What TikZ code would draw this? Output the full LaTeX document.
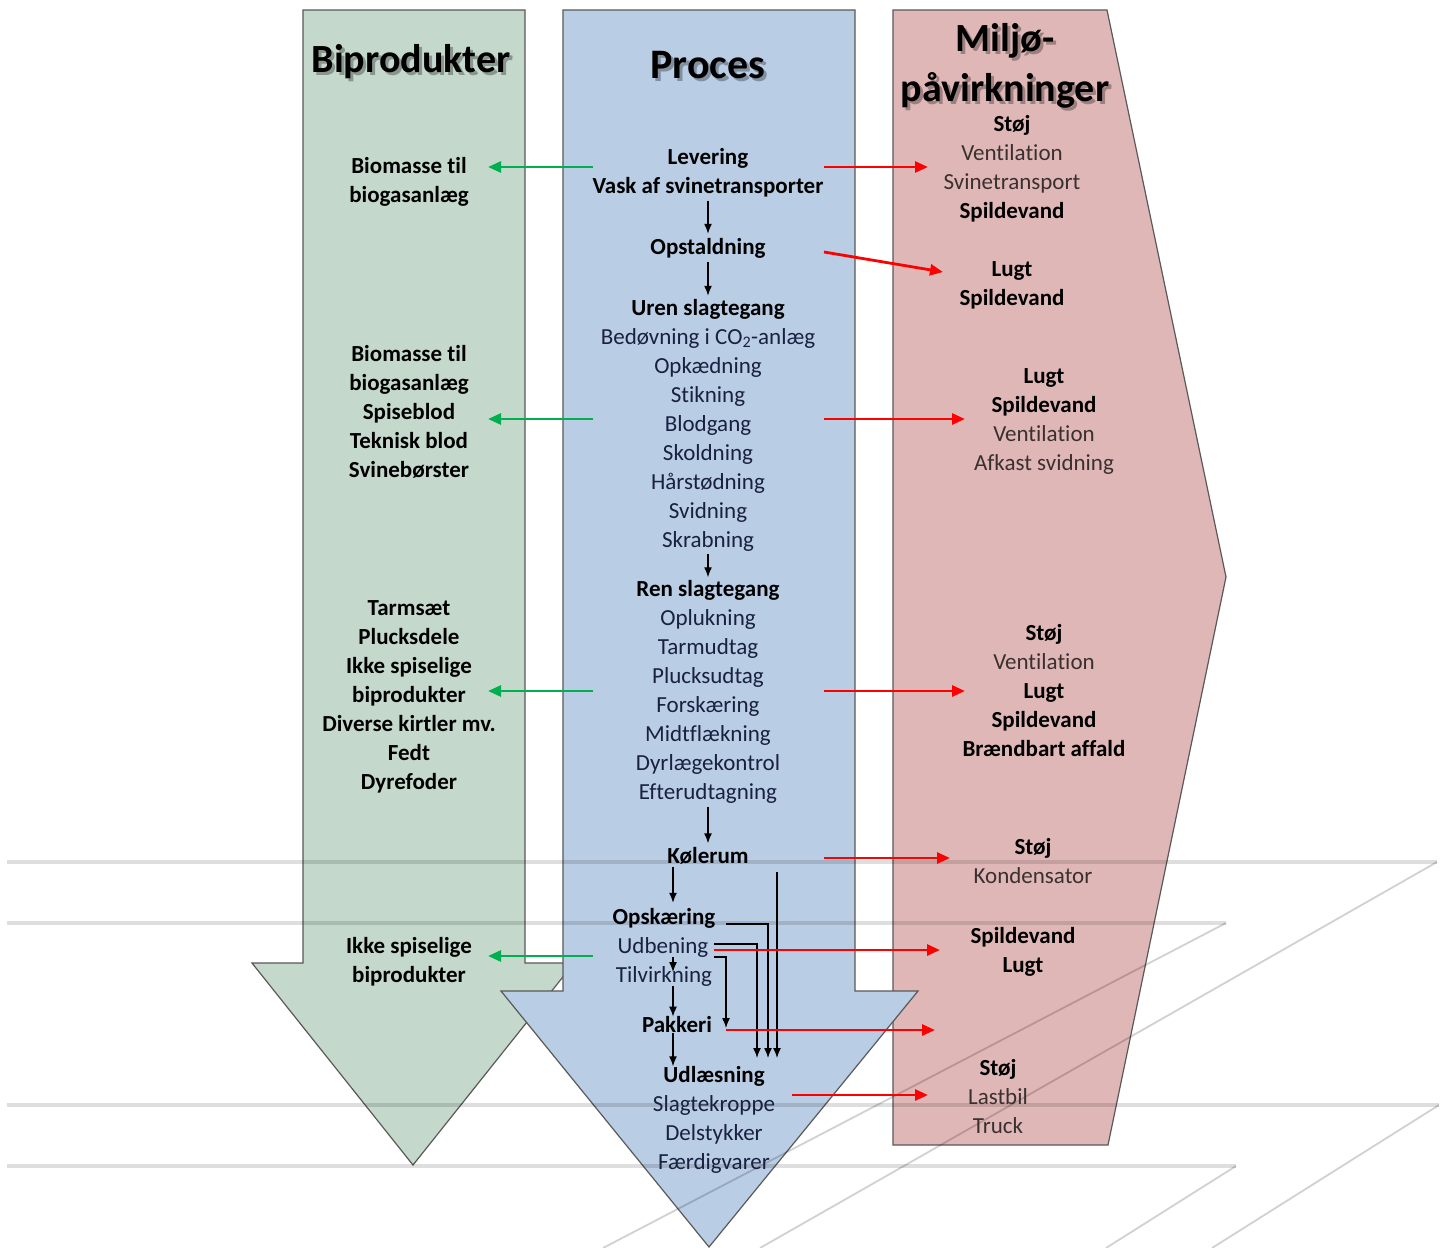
\documentclass[tikz,border=0pt]{standalone}
\usepackage{fontspec}
\setmainfont{Carlito}[Ligatures=NoCommon]
\usepackage{tikz}
\usetikzlibrary{arrows.meta,positioning}

\definecolor{bipgreen}{RGB}{196,217,204}
\definecolor{procblue}{RGB}{185,205,229}
\definecolor{milred}{RGB}{224,183,183}
\definecolor{txtblue}{RGB}{26,32,64}
\definecolor{txtgray}{RGB}{58,48,48}
\definecolor{arrgreen}{RGB}{0,176,80}

\newcommand{\bodyfont}{\fontsize{23}{29}\selectfont}
\newcommand{\headfont}{\fontsize{40}{50}\selectfont\bfseries}
\newcommand{\boldline}[1]{\textcolor{black}{\textbf{#1}}}

\begin{document}
\begin{tikzpicture}[x=1pt,y=-1pt,
  item/.style={align=center,font=\bodyfont,inner sep=0pt},
  heading/.style={align=center,font=\headfont,inner sep=0pt},
  shadow/.style={heading,text=black,opacity=0.3},
  column/.style={draw=black!65,line width=1.2pt},
  darr/.style={-{Latex[length=10pt,width=8pt]},line width=1.4pt},
  rarr/.style={-{Triangle[length=13pt,width=11pt]},line width=2.8pt,red},
  garr/.style={-{Triangle[length=13pt,width=11pt]},line width=2.8pt,arrgreen},
  bgline/.style={line width=4pt,black,opacity=0.13},
  bgdiag/.style={line width=1.8pt,black,opacity=0.18}]

  \useasboundingbox (0,0) rectangle (1444,1248);
  \fill[white] (0,0) rectangle (1444,1248);

  % the three big arrows
  \filldraw[column,fill=bipgreen] (303,10) -- (525,10) -- (525,963) -- (574,963)
    -- (413,1165) -- (252,963) -- (303,963) -- cycle;
  \filldraw[column,fill=milred] (893,10) -- (1107,10) -- (1226,577) -- (1108,1145)
    -- (893,1145) -- cycle;
  \filldraw[column,fill=procblue] (563,10) -- (855,10) -- (855,991) -- (918,991)
    -- (709,1247) -- (501,991) -- (563,991) -- cycle;

  % ramps in the background
  \draw[bgline] (7,862) -- (1437,862);
  \draw[bgline] (7,923) -- (1226,923);
  \draw[bgline] (7,1105) -- (1439,1105);
  \draw[bgline] (7,1166) -- (1236,1166);
  \draw[bgdiag] (1437,862) -- (760,1248);
  \draw[bgdiag] (1226,923) -- (603,1248);
  \draw[bgdiag] (1439,1105) -- (1212,1248);
  \draw[bgdiag] (1236,1166) -- (1106,1248);

  % headings
  \node[shadow] (bipsh) at (414,65) {Biprodukter};
  \node[heading] (bip) at (411,62) {Biprodukter};
  \node[shadow,font=\fontsize{42}{50}\selectfont\bfseries] (procsh) at (711,68) {Proces};
  \node[heading,font=\fontsize{42}{50}\selectfont\bfseries] (proc) at (708,65) {Proces};
  \node[shadow] (milsh) at (1008,69) {Miljø-\\påvirkninger};
  \node[heading] (mil) at (1005,66) {Miljø-\\påvirkninger};

  % Biprodukter
  \node[item,font=\bodyfont\bfseries] (bi1) at (409,182) {Biomasse til\\biogasanlæg};
  \node[item,font=\bodyfont\bfseries] (bi2) at (409,412)
    {Biomasse til\\biogasanlæg\\Spiseblod\\Teknisk blod\\Svinebørster};
  \node[item,font=\bodyfont\bfseries] (bi3) at (409,697)
    {Tarmsæt\\Plucksdele\\Ikke spiselige\\biprodukter\\Diverse kirtler mv.\\Fedt\\Dyrefoder};
  \node[item,font=\bodyfont\bfseries] (bi4) at (409,962) {Ikke spiselige\\biprodukter};

  % Proces
  \node[item,text=txtblue] (proc1) at (708,173) {\boldline{Levering}\\\boldline{Vask af svinetransporter}};
  \node[item,text=txtblue] (proc2) at (708,248) {\boldline{Opstaldning}};
  \node[item,text=txtblue] (proc3) at (708,425)
    {\boldline{Uren slagtegang}\\Bedøvning i CO\textsubscript{2}-anlæg\\Opkædning\\Stikning\\Blodgang\\Skoldning\\Hårstødning\\Svidning\\Skrabning};
  \node[item,text=txtblue] (proc4) at (708,692)
    {\boldline{Ren slagtegang}\\Oplukning\\Tarmudtag\\Plucksudtag\\Forskæring\\Midtflækning\\Dyrlægekontrol\\Efterudtagning};
  \node[item,text=txtblue] (proc5) at (708,856) {\boldline{Kølerum}};
  \node[item,text=txtblue] (proc6) at (664,918) {\boldline{Opskæring}};
  \node[item,text=txtblue] (proc7) at (663,947) {Udbening};
  \node[item,text=txtblue] (proc8) at (664,976) {Tilvirkning};
  \node[item,text=txtblue] (proc9) at (677,1025) {\boldline{Pakkeri}};
  \node[item,text=txtblue] (proc10) at (714,1120)
    {\boldline{Udlæsning}\\Slagtekroppe\\Delstykker\\Færdigvarer};

  % Miljoepaavirkninger
  \node[item,text=txtgray] (mil1) at (1012,169)
    {\boldline{Støj}\\Ventilation\\Svinetransport\\\boldline{Spildevand}};
  \node[item,text=txtgray] (mil2) at (1012,285) {\boldline{Lugt}\\\boldline{Spildevand}};
  \node[item,text=txtgray] (mil3) at (1044,422)
    {\boldline{Lugt}\\\boldline{Spildevand}\\Ventilation\\Afkast svidning};
  \node[item,text=txtgray] (mil4) at (1044,691)
    {\boldline{Støj}\\Ventilation\\\boldline{Lugt}\\\boldline{Spildevand}\\\boldline{Brændbart affald}};
  \node[item,text=txtgray] (mil5) at (1033,861) {\boldline{Støj}\\Kondensator};
  \node[item,text=txtgray] (mil6) at (1023,952) {\boldline{Spildevand}\\\boldline{Lugt}};
  \node[item,text=txtgray] (mil7) at (998,1097) {\boldline{Støj}\\Lastbil\\Truck};

  % steps down the process
  \coordinate (ax) at (673,0);
  \draw[darr,shorten <=3pt,shorten >=4pt] (proc1.south) -- (proc2.north);
  \draw[darr,shorten <=4pt,shorten >=3pt] (proc2.south) -- (proc3.north);
  \draw[darr,shorten <=3pt,shorten >=3pt] (proc3.south) -- (proc4.north);
  \draw[darr,shorten <=3pt,shorten >=4pt] (proc4.south) -- (proc5.north);
  \draw[darr,shorten <=2pt,shorten >=5pt] (proc5.south -| ax) -- (proc6.north -| ax);
  \draw[darr,shorten <=4pt,shorten >=10pt] (proc7.base -| ax) -- (proc8.base -| ax);
  \draw[darr] (proc8.south -| ax) -- (proc9.north -| ax);
  \draw[darr] (proc9.south -| ax) -- (proc10.north -| ax);

  % routes past the cutting line
  \coordinate (k1) at (777,872);
  \coordinate (o1) at (726,924);
  \coordinate (u1) at (714,944);
  \coordinate (u2) at (714,957);
  \coordinate (t1) at (757,1058);
  \coordinate (t2) at (768,1058);
  \coordinate (t3) at (777,1058);
  \coordinate (t4) at (726,1028);
  \draw[darr] (k1) -- (t3);
  \draw[darr] (o1) -| (t2);
  \draw[darr] (u1) -| (t1);
  \draw[darr] (u2) -| (t4);

  % by-products
  \coordinate (g1) at (593,167);  \coordinate (b1) at (488,167);
  \coordinate (g2) at (593,419);  \coordinate (b2) at (488,419);
  \coordinate (g3) at (593,691);  \coordinate (b3) at (488,691);
  \coordinate (g4) at (593,956);  \coordinate (b4) at (488,956);
  \draw[garr] (g1) -- (b1);
  \draw[garr] (g2) -- (b2);
  \draw[garr] (g3) -- (b3);
  \draw[garr] (g4) -- (b4);

  % environmental effects
  \coordinate (r1) at (824,167);  \coordinate (m1) at (928,167);
  \coordinate (r2) at (824,252);  \coordinate (m2) at (943,272);
  \coordinate (r3) at (824,419);  \coordinate (m3) at (965,419);
  \coordinate (r4) at (824,691);  \coordinate (m4) at (965,691);
  \coordinate (r5) at (824,858);  \coordinate (m5) at (950,858);
  \coordinate (r6) at (714,950);  \coordinate (m6) at (940,950);
  \coordinate (r7) at (726,1030); \coordinate (m7) at (935,1030);
  \coordinate (r8) at (792,1095); \coordinate (m8) at (928,1095);
  \draw[rarr] (r1) -- (m1);
  \draw[rarr] (r2) -- (m2);
  \draw[rarr] (r3) -- (m3);
  \draw[rarr] (r4) -- (m4);
  \draw[rarr] (r5) -- (m5);
  \draw[rarr] (r6) -- (m6);
  \draw[rarr] (r7) -- (m7);
  \draw[rarr] (r8) -- (m8);
\end{tikzpicture}
\end{document}
